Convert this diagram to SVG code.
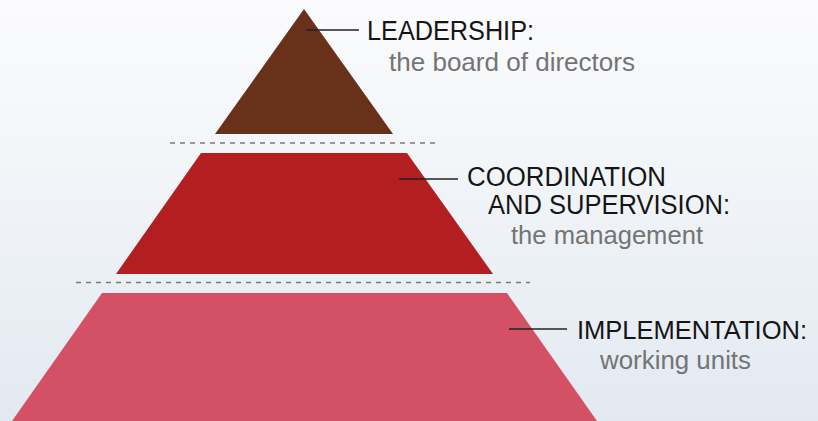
<svg xmlns="http://www.w3.org/2000/svg" width="818" height="421" viewBox="0 0 818 421">
<defs>
<linearGradient id="bg" x1="0" y1="0" x2="0" y2="1">
<stop offset="0" stop-color="#FBFBFD"/>
<stop offset="0.35" stop-color="#F3F6F9"/>
<stop offset="1" stop-color="#E2E9F1"/>
</linearGradient>
<style>
.title{font-family:"Liberation Sans",Arial,Helvetica,sans-serif;font-size:27px;fill:#151515}
.sub{font-family:"Liberation Sans",Arial,Helvetica,sans-serif;font-size:26px;fill:#747474}
.lead{stroke:#222;stroke-width:1.5;fill:none}
.dash{stroke:#7a7a7a;stroke-width:1.3;stroke-dasharray:5 5;fill:none}
</style>
</defs>
<rect width="818" height="421" fill="url(#bg)"/>
<g id="connectors">
<line class="dash" x1="170" y1="143" x2="436" y2="143"/>
<line class="dash" x1="76" y1="282.5" x2="530" y2="282.5"/>
</g>
<g id="leadership">
<polygon points="304,9 393,134 215,134" fill="#6A311A"/>
<line class="lead" x1="306" y1="30" x2="359" y2="30"/>
<text class="title" x="367" y="40" textLength="167" lengthAdjust="spacingAndGlyphs">LEADERSHIP:</text>
<text class="sub" x="389" y="71" textLength="246" lengthAdjust="spacingAndGlyphs">the board of directors</text>
</g>
<g id="coordination">
<polygon points="201,153 407,153 493,274 116,274" fill="#B31F20"/>
<line class="lead" x1="399" y1="179" x2="458" y2="179"/>
<text class="title" x="467" y="186" textLength="199" lengthAdjust="spacingAndGlyphs">COORDINATION</text>
<text class="title" x="488" y="214" textLength="242" lengthAdjust="spacingAndGlyphs">AND SUPERVISION:</text>
<text class="sub" x="511" y="244" textLength="192" lengthAdjust="spacingAndGlyphs">the management</text>
</g>
<g id="implementation">
<polygon points="102,293 507,293 597,421 12,421" fill="#D45165"/>
<line class="lead" x1="509" y1="329" x2="567" y2="329"/>
<text class="title" x="577" y="339" style="font-size:25.5px">IMPLEMENTATION:</text>
<text class="sub" x="600" y="369" textLength="151" lengthAdjust="spacingAndGlyphs">working units</text>
</g>
</svg>
